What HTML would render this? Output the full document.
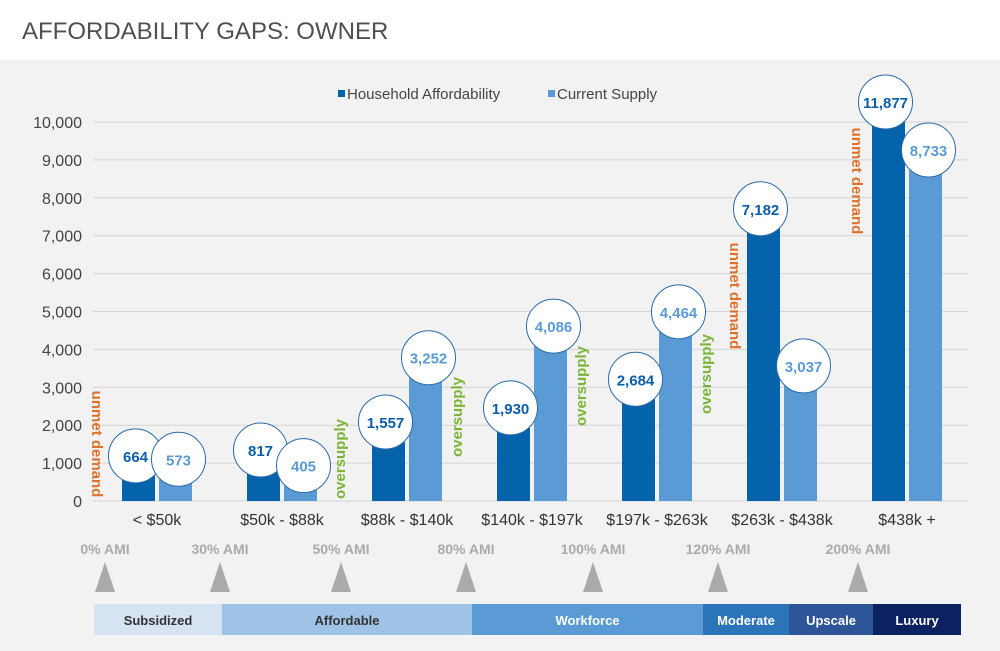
<!DOCTYPE html>
<html><head><meta charset="utf-8"><style>
body{margin:0;background:#fff;font-family:"Liberation Sans",sans-serif}
svg{display:block}
</style></head><body>
<svg id="chart" width="1000" height="651" xmlns="http://www.w3.org/2000/svg" font-family="Liberation Sans, sans-serif">
<rect x="0" y="0" width="1000" height="651" fill="#fff"/>
<text x="22" y="39" font-size="24" fill="#505050">AFFORDABILITY GAPS: OWNER</text>
<rect x="0" y="60" width="1000" height="591" fill="#f2f2f2"/>
<g id="grid"></g><g id="bars"></g><g id="notes"></g><g id="labels"></g>
<rect x="338" y="90" width="7" height="7" fill="#0563ab"/>
<text x="347" y="99" font-size="15" fill="#444">Household Affordability</text>
<rect x="548" y="90" width="7" height="7" fill="#5b9bd5"/>
<text x="557" y="99" font-size="15" fill="#444">Current Supply</text>
<g id="ami"></g><g id="bands"></g>
</svg>
<script>
const categories=["< $50k","$50k - $88k","$88k - $140k","$140k - $197k","$197k - $263k","$263k - $438k","$438k +"];
const household=[664,817,1557,1930,2684,7182,11877];
const supply=[573,405,3252,4086,4464,3037,8733];
const yTicks=[0,1000,2000,3000,4000,5000,6000,7000,8000,9000,10000];
const amiLabels=["0% AMI","30% AMI","50% AMI","80% AMI","100% AMI","120% AMI","200% AMI"];
const bandNames=["Subsidized","Affordable","Workforce","Moderate","Upscale","Luxury"];
const NS="http://www.w3.org/2000/svg";
function y(v){return 501-Math.min(v,10000)*0.0379;}
function cx(i){return 157+i*125;}
function mk(tag,attrs,parent,txt){const e=document.createElementNS(NS,tag);for(const k in attrs)e.setAttribute(k,attrs[k]);if(txt!==undefined)e.textContent=txt;document.getElementById(parent).appendChild(e);return e;}
yTicks.forEach(t=>{
 const l=mk("line",{x1:93,x2:968,y1:y(t),y2:y(t),stroke:"#d4d4d4","stroke-width":1},"grid");
 
 
 const tx=mk("text",{x:82,y:y(t)+6,"font-size":16,fill:"#444","text-anchor":"end"},"grid",t.toLocaleString("en-US"));
 
 
});
categories.forEach((c,i)=>{
 const t=mk("text",{x:cx(i),y:525,"font-size":16,fill:"#333","text-anchor":"middle"},"labels",c);
 
 
 [[household[i],cx(i)-35,"#0563ab","#0b5ea8"],[supply[i],cx(i)+2,"#5b9bd5","#5b9bd5"]].forEach(([v,x,col,tc],k)=>{
  const b=mk("rect",{x:x,y:y(v),width:33,height:501-y(v),fill:col},"bars");
  
  
  const ccx=x+16.5+(k?3:-3), ccy=y(v)-20;
  const ci=mk("circle",{cx:ccx,cy:ccy,r:27,fill:"#fff",stroke:"#2a6aa8","stroke-width":1},"labels");
  
  
  const vt=mk("text",{x:ccx,y:ccy+6,"font-size":15,"font-weight":"bold",fill:tc,"text-anchor":"middle"},"labels",v.toLocaleString("en-US"));
  
  
 });
});
const notes=[["unmet demand",92,444,90,"#e0702a"],["oversupply",345,459,-90,"#7ab536"],["oversupply",462,417,-90,"#7ab536"],["oversupply",586,386,-90,"#7ab536"],["oversupply",711,374,-90,"#7ab536"],["unmet demand",730,296,90,"#e0702a"],["unmet demand",852,181,90,"#e0702a"]];
notes.forEach(n=>{
 const t=mk("text",{x:n[1],y:n[2],"font-size":15,"font-weight":"bold",fill:n[4],"text-anchor":"middle",transform:`rotate(${n[3]} ${n[1]} ${n[2]})`},"notes",n[0]);
 
 
});
const amiX=[105,220,341,466,593,718,858];
amiLabels.forEach((a,i)=>{
 const t=mk("text",{x:amiX[i],y:554,"font-size":14,"font-weight":"bold",fill:"#aaa","text-anchor":"middle"},"ami",a);
 
 
 const p=mk("polygon",{points:`${amiX[i]-10},592 ${amiX[i]+10},592 ${amiX[i]},562`,fill:"#aaa"},"ami");
 
 
});
const bandX=[94,222,472,703,789,873,961];
const bandFill=["#d6e3f3","#9fc3e7","#5b9bd5","#2b74ba","#2d5597","#0b2160"];
const bandText=["#333","#333","#fff","#fff","#fff","#fff"];
bandNames.forEach((b,i)=>{
 const r=mk("rect",{x:bandX[i],y:604,width:bandX[i+1]-bandX[i],height:31,fill:bandFill[i]},"bands");
 
 
 const t=mk("text",{x:(bandX[i]+bandX[i+1])/2,y:625,"font-size":13,"font-weight":"bold",fill:bandText[i],"text-anchor":"middle"},"bands",b);
 
 
});
</script>
</body></html>
